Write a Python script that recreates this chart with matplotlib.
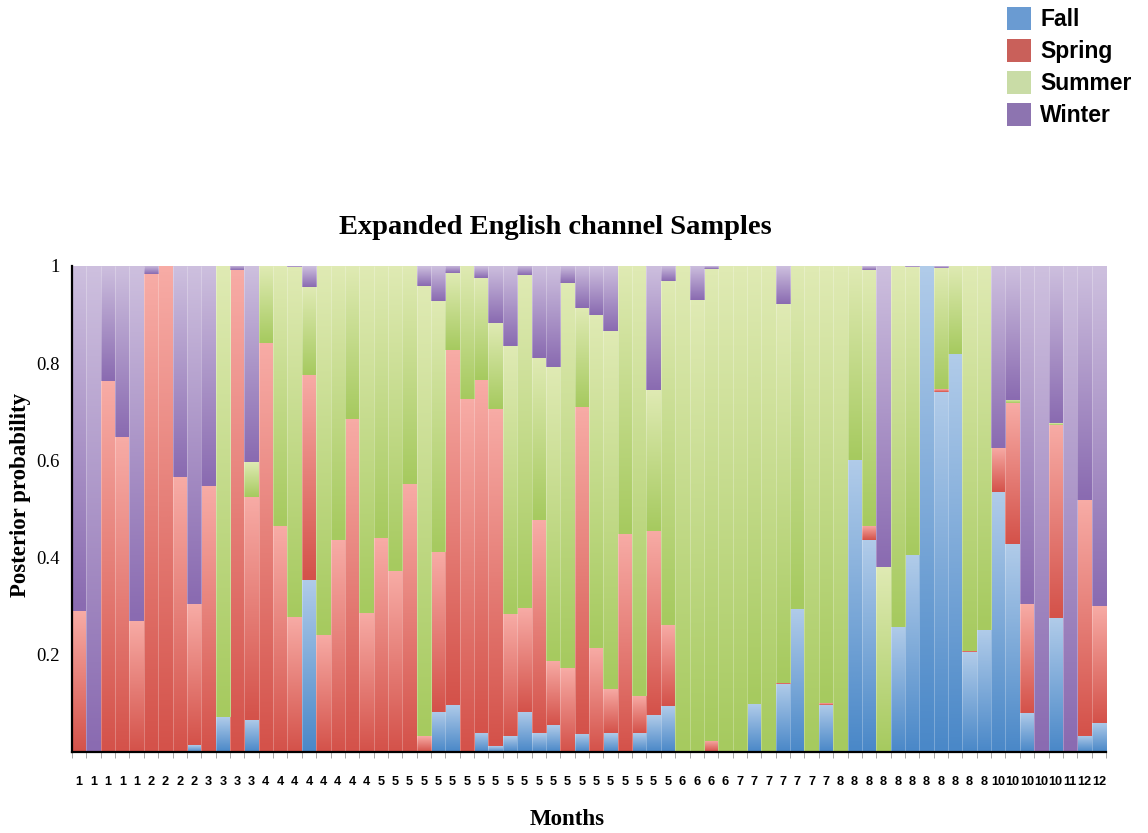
import numpy as np
import matplotlib
matplotlib.use("Agg")
import matplotlib.pyplot as plt
from matplotlib.colors import LinearSegmentedColormap
from matplotlib.patches import Patch

# month of each sample (x tick labels)
months = ['1', '1', '1', '1', '1', '2', '2', '2', '2', '3', '3', '3',
          '3', '4', '4', '4', '4', '4', '4', '4', '4', '5', '5', '5',
          '5', '5', '5', '5', '5', '5', '5', '5', '5', '5', '5', '5',
          '5', '5', '5', '5', '5', '5', '6', '6', '6', '6', '7', '7',
          '7', '7', '7', '7', '7', '8', '8', '8', '8', '8', '8', '8',
          '8', '8', '8', '8', '10', '10', '10', '10', '10', '11', '12', '12']

# posterior probability of each season, per sample
fall = [0, 0, 0, 0, 0, 0, 0, 0, 0.014, 0, 0.071, 0,
        0.066, 0.002, 0, 0, 0.354, 0, 0, 0, 0, 0, 0, 0,
        0, 0.083, 0.097, 0, 0.04, 0.012, 0.032, 0.083, 0.039, 0.055, 0, 0.038,
        0, 0.039, 0, 0.039, 0.076, 0.094, 0, 0, 0, 0, 0, 0.098,
        0, 0.14, 0.294, 0, 0.097, 0, 0.601, 0.436, 0, 0.258, 0.405, 1.0,
        0.741, 0.818, 0.205, 0.251, 0.534, 0.428, 0.081, 0, 0.275, 0, 0.033, 0.06]

spring = [0.29, 0, 0.763, 0.648, 0.27, 0.983, 1.0, 0.566, 0.29, 0.547, 0, 0.991,
          0.459, 0.84, 0.465, 0.278, 0.422, 0.241, 0.436, 0.686, 0.287, 0.44, 0.372, 0.552,
          0.032, 0.329, 0.73, 0.726, 0.725, 0.694, 0.252, 0.213, 0.438, 0.132, 0.172, 0.672,
          0.215, 0.091, 0.449, 0.077, 0.379, 0.167, 0, 0, 0.023, 0, 0, 0,
          0, 0.003, 0, 0, 0.004, 0, 0, 0.029, 0, 0, 0, 0,
          0.005, 0, 0.003, 0, 0.092, 0.29, 0.223, 0, 0.398, 0, 0.485, 0.241]

summer = [0, 0, 0, 0, 0, 0, 0, 0, 0, 0, 0.929, 0,
          0.072, 0.158, 0.535, 0.72, 0.181, 0.759, 0.564, 0.314, 0.713, 0.56, 0.628, 0.448,
          0.927, 0.516, 0.158, 0.274, 0.211, 0.176, 0.551, 0.685, 0.334, 0.606, 0.792, 0.203,
          0.685, 0.736, 0.551, 0.884, 0.289, 0.708, 1.0, 0.93, 0.971, 1.0, 1.0, 0.902,
          1.0, 0.779, 0.706, 1.0, 0.899, 1.0, 0.399, 0.527, 0.38, 0.742, 0.593, 0,
          0.25, 0.182, 0.792, 0.749, 0, 0.007, 0, 0, 0.003, 0, 0, 0]

winter = [0.71, 1.0, 0.237, 0.352, 0.73, 0.017, 0, 0.434, 0.696, 0.453, 0, 0.009,
          0.403, 0, 0, 0.002, 0.043, 0, 0, 0, 0, 0, 0, 0,
          0.041, 0.072, 0.015, 0, 0.024, 0.118, 0.165, 0.019, 0.189, 0.207, 0.036, 0.087,
          0.1, 0.134, 0, 0, 0.256, 0.031, 0, 0.07, 0.006, 0, 0, 0,
          0, 0.078, 0, 0, 0, 0, 0, 0.008, 0.62, 0, 0.002, 0,
          0.004, 0, 0, 0, 0.374, 0.275, 0.696, 1.0, 0.324, 1.0, 0.482, 0.699]

seasons = ['Fall', 'Spring', 'Summer', 'Winter']
# (dark bottom, light top) gradient for each season, plus legend swatch colour
gradients = {'Fall': ('#4a88c8', '#b0cbe9'),
             'Spring': ('#d4524a', '#f7aba5'),
             'Summer': ('#a6ca5f', '#dfeab3'),
             'Winter': ('#8a6bb1', '#cdbfde')}
swatch = {'Fall': '#6a9bd2', 'Spring': '#c9605a',
          'Summer': '#c9dca6', 'Winter': '#8d74b0'}

fig = plt.figure(figsize=(11.48, 8.33), dpi=100)
ax = fig.add_axes([72 / 1148, 1 - 752 / 833, (1106 - 72) / 1148, (752 - 266) / 833])

x = np.arange(len(months))
grad = np.linspace(0, 1, 64).reshape(-1, 1)
bottom = np.zeros(len(months))
for name, vals in zip(seasons, [fall, spring, summer, winter]):
    vals = np.array(vals)
    bars = ax.bar(x, vals, width=1.0, bottom=bottom, color=swatch[name],
                  edgecolor='none', zorder=1)
    cmap = LinearSegmentedColormap.from_list(name, list(gradients[name]))
    for rect in bars:
        h = rect.get_height()
        if h <= 0:
            continue
        x0, y0, w = rect.get_x(), rect.get_y(), rect.get_width()
        ax.imshow(grad, extent=[x0, x0 + w, y0, y0 + h], origin='lower',
                  cmap=cmap, aspect='auto', interpolation='bilinear', zorder=2)
    bottom += vals

# faint separators between bars
ax.vlines(x[:-1] + 0.5, 0, 1, color='white', alpha=0.3, lw=0.6, zorder=3)

ax.set_xlim(-0.17, len(months) - 0.5)
ax.set_ylim(0, 1)
ax.set_aspect('auto')

for s in ['top', 'right']:
    ax.spines[s].set_visible(False)
ax.spines['left'].set_linewidth(1.6)
ax.spines['bottom'].set_linewidth(1.6)
ax.spines['left'].set_zorder(5)
ax.spines['bottom'].set_zorder(5)

ax.set_yticks([0.2, 0.4, 0.6, 0.8, 1.0])
ax.set_yticklabels(['0.2', '0.4', '0.6', '0.8', '1'],
                   fontfamily='Liberation Serif', fontsize=13.5)
ax.tick_params(axis='y', length=0, pad=9)

ax.set_xticks(x)
ax.set_xticklabels(months, fontfamily='Liberation Sans', fontsize=9.2,
                   fontweight='bold')
ax.set_xticks(np.arange(len(months) + 1) - 0.5, minor=True)
ax.tick_params(axis='x', which='major', length=0, pad=17)
ax.tick_params(axis='x', which='minor', length=4, color='#999999', width=0.6)

fig.text(0.484, 0.727, 'Expanded English channel Samples', ha='center', va='center',
         fontfamily='Liberation Serif', fontweight='bold', fontsize=20.5)
fig.text(0.494, 0.016, 'Months', ha='center', va='center',
         fontfamily='Liberation Serif', fontweight='bold', fontsize=16.5)
fig.text(0.018, 0.406, 'Posterior probability', ha='center', va='center',
         rotation=90, fontfamily='Liberation Serif', fontweight='bold', fontsize=16.5)

handles = [Patch(facecolor=swatch[s], edgecolor='none') for s in seasons]
fig.legend(handles, seasons, loc='upper left', bbox_to_anchor=(1000 / 1148, 1.0),
           frameon=False, prop={'family': 'Liberation Sans', 'weight': 'bold', 'size': 16.5},
           handlelength=1.05, handleheight=1.15, handletextpad=0.4, labelspacing=0.35,
           borderpad=0.0, borderaxespad=0.3)

fig.savefig('out.png', dpi=100)
